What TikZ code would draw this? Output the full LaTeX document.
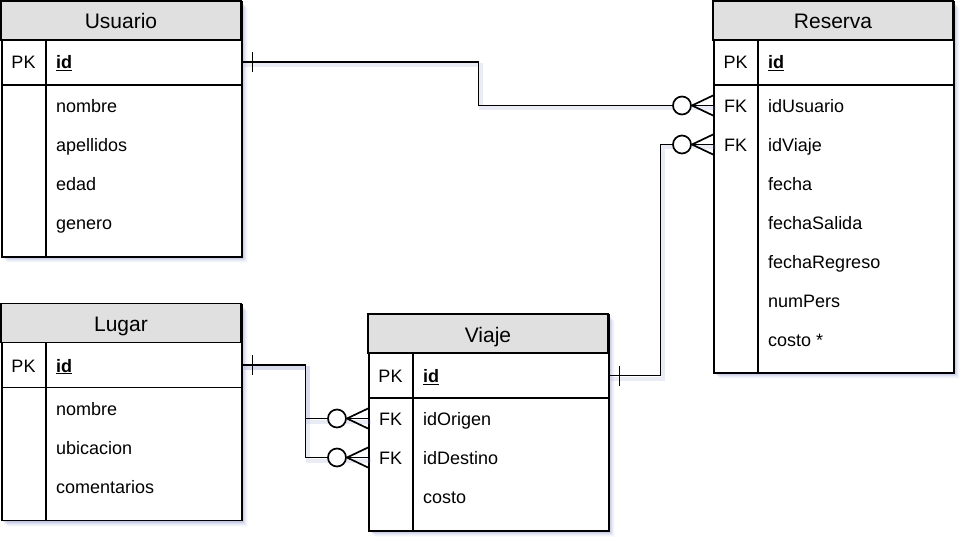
\documentclass[tikz,border=0pt]{standalone}
\usepackage{fontspec}
\setmainfont{Liberation Sans}
\usetikzlibrary{calc}
\definecolor{hdr}{RGB}{224,224,224}
\definecolor{shd}{RGB}{140,148,200}
\tikzset{
  frame/.style={draw=black, line width=1.7pt, fill=white},
  ttl/.style={font=\fontsize{21}{21}\selectfont, anchor=base, inner sep=0},
  fld/.style={font=\fontsize{18}{18}\selectfont, anchor=base west, inner sep=0},
  keytxt/.style={font=\fontsize{18}{18}\selectfont, anchor=base, inner sep=0},
  rowarea/.style={minimum width=240pt, minimum height=39pt, inner sep=0, anchor=west},
  conn/.style={line width=1.7pt, draw=black},
  connshadow/.style={line width=4pt, draw=shd, opacity=.18},
}
\newcommand\ertable[5]{% name, x, y top, title, height
  \foreach \o/\op in {2/.2,3/.17,4/.14,5/.1,6/.07,7/.04} {\fill[shd, opacity=\op] (#2+\o,#3+\o) rectangle ++(240,#5);}
  \node[frame, minimum width=240pt, minimum height=#5pt, anchor=north west, inner sep=0] (#1) at (#2,#3) {};
  \draw[frame, fill=hdr] (#2,#3) rectangle ++(240,39);
  \node[ttl] (#1-title) at (#2+120,#3+28) {#4};
  \draw[line width=1.7pt] (#2,#3+84) -- ++(240,0);
  \draw[line width=1.7pt] (#2+45,#3+39) -- (#2+45,#3+#5);
}
\newcommand\errow[5]{% node name, x, y center, key, text
  \node[rowarea] (#1) at (#2,#3) {};
  \node[keytxt] (#1-k) at (#2+22.5,#3+7) {#4};
  \node[fld] (#1-t) at (#2+55,#3+7) {#5};
}
\newcommand\crowzero[1]{%
  \draw[conn] ($(#1)+(-21,0)$) -- ($(#1)+(0,-10)$);
  \draw[conn] ($(#1)+(-21,0)$) -- ($(#1)+(0,10)$);
  \draw[conn, fill=white] ($(#1)+(-31,0)$) circle[radius=9pt];
}
\newcommand\onetick[1]{%
  \draw[conn] ($(#1)+(11,-10)$) -- ($(#1)+(11,10)$);
}
\begin{document}
\begin{tikzpicture}[x=1pt,y=-1pt]
\useasboundingbox (0,0) rectangle (971,548);

% tables
\ertable{usuario}{1}{1}{Usuario}{255}
\errow{usuario-id}{1}{62}{PK}{\underline{\textbf{id}}}
\errow{usuario-r1}{1}{105.5}{}{nombre}
\errow{usuario-r2}{1}{144.5}{}{apellidos}
\errow{usuario-r3}{1}{183.5}{}{edad}
\errow{usuario-r4}{1}{222.5}{}{genero}

\ertable{reserva}{713}{1}{Reserva}{371}
\errow{reserva-id}{713}{62}{PK}{\underline{\textbf{id}}}
\errow{reserva-fk1}{713}{105.5}{FK}{idUsuario}
\errow{reserva-fk2}{713}{144.5}{FK}{idViaje}
\errow{reserva-r3}{713}{183.5}{}{fecha}
\errow{reserva-r4}{713}{222.5}{}{fechaSalida}
\errow{reserva-r5}{713}{261.5}{}{fechaRegreso}
\errow{reserva-r6}{713}{300.5}{}{numPers}
\errow{reserva-r7}{713}{339.5}{}{costo *}

\ertable{lugar}{1}{303.5}{Lugar}{216}
\errow{lugar-id}{1}{365}{PK}{\underline{\textbf{id}}}
\errow{lugar-r1}{1}{408}{}{nombre}
\errow{lugar-r2}{1}{447}{}{ubicacion}
\errow{lugar-r3}{1}{486}{}{comentarios}

\ertable{viaje}{368}{314}{Viaje}{216}
\errow{viaje-id}{368}{375.5}{PK}{\underline{\textbf{id}}}
\errow{viaje-fk1}{368}{418.5}{FK}{idOrigen}
\errow{viaje-fk2}{368}{457.5}{FK}{idDestino}
\errow{viaje-r3}{368}{496.5}{}{costo}

% connector shadows
\begin{scope}[transform canvas={shift={(3,3)}}]
\draw[connshadow] (usuario-id.east) -- ++(237,0) |- (reserva-fk1.west);
\draw[connshadow] (viaje-id.east) -- ++(52,0) |- (reserva-fk2.west);
\draw[connshadow] (lugar-id.east) -- ++(64,0) |- (viaje-fk1.west);
\draw[connshadow] (lugar-id.east) -- ++(64,0) |- (viaje-fk2.west);
\end{scope}

% connectors
\draw[conn] (usuario-id.east) -- ++(237,0) |- (reserva-fk1.west);
\onetick{usuario-id.east}
\crowzero{reserva-fk1.west}

\draw[conn] (viaje-id.east) -- ++(52,0) |- (reserva-fk2.west);
\onetick{viaje-id.east}
\crowzero{reserva-fk2.west}

\draw[conn] (lugar-id.east) -- ++(64,0) |- (viaje-fk1.west);
\draw[conn] (lugar-id.east) -- ++(64,0) |- (viaje-fk2.west);
\onetick{lugar-id.east}
\crowzero{viaje-fk1.west}
\crowzero{viaje-fk2.west}
\end{tikzpicture}
\end{document}
